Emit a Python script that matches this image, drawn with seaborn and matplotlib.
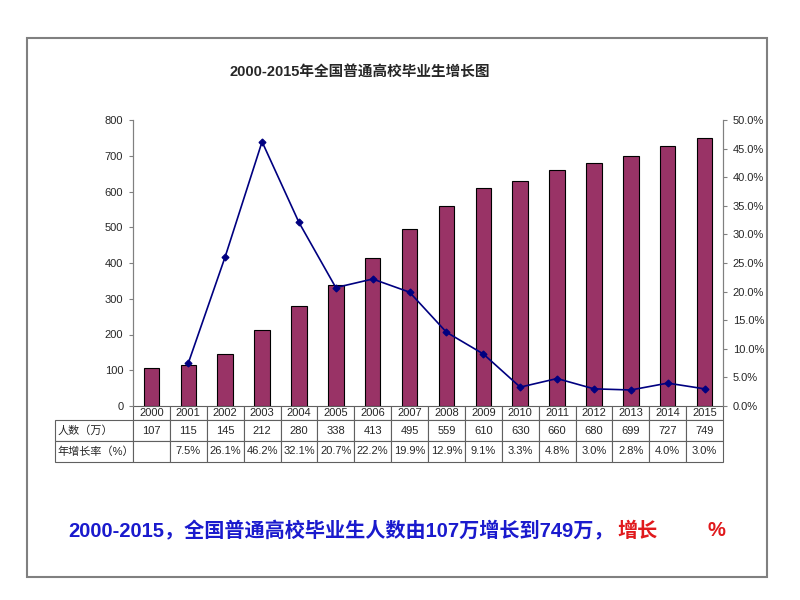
import numpy as np
import pandas as pd
import matplotlib
matplotlib.use('Agg')
import matplotlib.pyplot as plt
import seaborn as sns
from matplotlib.patches import Rectangle
from matplotlib.ticker import FuncFormatter

sns.set_style('white')
plt.rcParams['font.family'] = ['Liberation Sans', 'Noto Sans CJK SC', 'DejaVu Sans']

# data
years = [str(y) for y in range(2000, 2016)]
people = [107, 115, 145, 212, 280, 338, 413, 495, 559, 610, 630, 660, 680, 699, 727, 749]
rate_years = years[1:]
rates = [7.5, 26.1, 46.2, 32.1, 20.7, 22.2, 19.9, 12.9, 9.1, 3.3, 4.8, 3.0, 2.8, 4.0, 3.0]
rate_labels = [''] + ['%.1f%%' % r for r in rates]
row_labels = ['人数（万）', '年增长率（%）']

title = '2000-2015年全国普通高校毕业生增长图'
note_blue = '2000-2015，全国普通高校毕业生人数由107万增长到749万，'
note_red = '增长'

df = pd.DataFrame({'year': years, 'people': people})
df_rate = pd.DataFrame({'year': rate_years, 'rate': rates})

W, H = 800, 600
fig = plt.figure(figsize=(8, 6), dpi=100)
fig.patch.set_facecolor('white')

# plot area in pixels: x 133..723, y 120..406
ax = fig.add_axes([133 / W, 1 - 406 / H, 590 / W, 286 / H])
sns.barplot(data=df, x='year', y='people', order=years, color='#993366',
            edgecolor='black', linewidth=0.8, width=0.42, saturation=1, ax=ax)
ax.set_ylim(0, 800)
ax.set_yticks(range(0, 801, 100))
ax.set_xlabel('')
ax.set_ylabel('')

ax2 = ax.twinx()
sns.pointplot(data=df_rate, x='year', y='rate', order=years, color='#000080',
              markers='D', markersize=3.5, linewidth=1.2, errorbar=None, ax=ax2)
ax2.set_ylim(0, 50)
ax2.set_yticks(np.arange(0, 50.1, 5))
ax2.yaxis.set_major_formatter(FuncFormatter(lambda v, p: '%.1f%%' % v))
ax2.set_xlabel('')
ax2.set_ylabel('')

ax.set_xlim(-0.5, len(years) - 0.5)
for a in (ax, ax2):
    a.set_xticks([])
    a.grid(False)
    a.spines['top'].set_visible(False)
    a.spines['bottom'].set_visible(False)
    a.spines['left'].set_color('#808080')
    a.spines['right'].set_color('#808080')
    a.tick_params(axis='y', labelsize=8, length=3, width=0.8, color='#808080',
                  direction='out', pad=4)
ax.tick_params(axis='y', left=True, right=False)
ax2.tick_params(axis='y', right=True, left=False)

# data table under the plot
cell_text = [[''] + years,
             [row_labels[0]] + [str(p) for p in people],
             [row_labels[1]] + rate_labels]
col_w = [78] + [590 / 16] * 16
tbl = ax.table(cellText=cell_text, colWidths=col_w, cellLoc='center',
               bbox=[-78 / 590, -56 / 286, 668 / 590, 56 / 286])
tbl.auto_set_font_size(False)
tbl.set_fontsize(8)
row_h = [14, 21, 21]
for (r, c), cell in tbl.get_celld().items():
    cell.set_height(row_h[r])
    cell.set_edgecolor('#606060')
    cell.set_linewidth(0.8)
    if c == 0:
        cell._loc = 'left'
        cell.PAD = 0.03
        cell.get_text().set_horizontalalignment('left')
    if r == 0 and c == 0:
        cell.visible_edges = ''

# title and frame
fig.text(360 / W, 1 - 73 / H, title, ha='center', va='center',
         fontsize=10.5, fontweight='bold')
fig.add_artist(Rectangle((27 / W, 1 - 577 / H), 740 / W, 539 / H,
                         transform=fig.transFigure, fill=False,
                         edgecolor='#808080', linewidth=1.5))

# note under the chart
fig.text(68 / W, 1 - 531 / H, note_blue, ha='left', va='center',
         fontsize=14.5, fontweight='bold', color='#1a1acd')
fig.text(617 / W, 1 - 531 / H, note_red, ha='left', va='center',
         fontsize=14.5, fontweight='bold', color='#e0191c')
fig.text(707 / W, 1 - 531 / H, '%', ha='left', va='center',
         fontsize=14.5, fontweight='bold', color='#e0191c')

fig.savefig('out.png', dpi=100)
